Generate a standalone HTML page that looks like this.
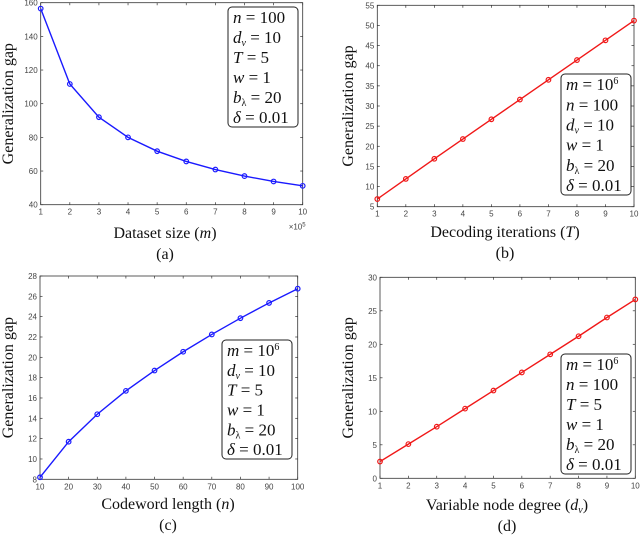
<!DOCTYPE html>
<html><head><meta charset="utf-8"><style>
body{margin:0;background:#fff;width:640px;height:536px;overflow:hidden}
svg{display:block}
.tick{font-family:"Liberation Sans",sans-serif;font-size:8px;fill:#444}
.lab{font-family:"Liberation Serif",serif;font-size:16px;fill:#111}
.leg{font-family:"Liberation Serif",serif;font-size:17px;fill:#111}
</style></head><body>
<svg id="fig" width="640" height="536" viewBox="0 0 640 536"></svg>
<script>
const catsA=[1,2,3,4,5,6,7,8,9,10];
const valsA=[156.5,111.7,92,80,71.8,65.7,60.9,57,53.8,51.2];
const ticksYA=[40,60,80,100,120,140,160];
const catsB=[1,2,3,4,5,6,7,8,9,10];
const valsB=[6.9,11.9,16.9,21.8,26.7,31.6,36.5,41.4,46.3,51.2];
const ticksYB=[5,10,15,20,25,30,35,40,45,50,55];
const catsC=[10,20,30,40,50,60,70,80,90,100];
const valsC=[8.2,11.7,14.4,16.7,18.7,20.55,22.25,23.85,25.35,26.75];
const ticksYC=[8,10,12,14,16,18,20,22,24,26,28];
const catsD=[1,2,3,4,5,6,7,8,9,10];
const valsD=[2.5,5.1,7.7,10.4,13.1,15.8,18.5,21.2,24,26.7];
const ticksYD=[0,5,10,15,20,25,30];
const NS="http://www.w3.org/2000/svg";
const fig=document.getElementById('fig');
function mk(tag,attrs,parent,txt){const e=document.createElementNS(NS,tag);for(const k in attrs)e.setAttribute(k,attrs[k]);if(txt!==undefined)e.innerHTML=txt;(parent||fig).appendChild(e);return e;}
function panel(p){
  const g=mk('g',{});
  
  
  const xs=v=>p.x0+(v-p.xmin)/(p.xmax-p.xmin)*(p.x1-p.x0);
  const ys=v=>p.y1-(v-p.ymin)/(p.ymax-p.ymin)*(p.y1-p.y0);
  const box=mk('rect',{x:p.x0,y:p.y0,width:p.x1-p.x0,height:p.y1-p.y0,fill:'none',stroke:'#333','stroke-width':0.8},g);
  
  
  p.cats.forEach(c=>{
    mk('line',{x1:xs(c),x2:xs(c),y1:p.y1,y2:p.y1-2.5,stroke:'#333','stroke-width':0.7},g);
    mk('line',{x1:xs(c),x2:xs(c),y1:p.y0,y2:p.y0+2.5,stroke:'#333','stroke-width':0.7},g);
    const t=mk('text',{x:xs(c),y:p.y1+10,'text-anchor':'middle',class:'tick'},g,c);
    
    
  });
  p.ticks.forEach(v=>{
    mk('line',{x1:p.x0,x2:p.x0+2.5,y1:ys(v),y2:ys(v),stroke:'#333','stroke-width':0.7},g);
    mk('line',{x1:p.x1,x2:p.x1-2.5,y1:ys(v),y2:ys(v),stroke:'#333','stroke-width':0.7},g);
    const t=mk('text',{x:p.x0-3,y:ys(v)+3,'text-anchor':'end',class:'tick'},g,v);
    
    
  });
  const pts=p.cats.map((c,i)=>xs(c)+','+ys(p.vals[i])).join(' ');
  const ln=mk('polyline',{points:pts,fill:'none',stroke:p.color,'stroke-width':1.4},g);
  
  
  p.cats.forEach((c,i)=>{
    const m=mk('circle',{cx:xs(c),cy:ys(p.vals[i]),r:2.3,fill:'none',stroke:p.color,'stroke-width':1.2},g);
    
    
  });
  const yl=mk('text',{x:0,y:0,transform:`translate(${p.ylx},${(p.y0+p.y1)/2}) rotate(-90)`,'text-anchor':'middle',class:'lab'},g,'Generalization gap');
  
  
  const xl=mk('text',{x:p.xlx,y:p.xly,'text-anchor':'middle',class:'lab'},g,p.xlabel);
  
  
  const cap=mk('text',{x:p.xlx,y:p.xly+21,'text-anchor':'middle',class:'lab'},g,'('+p.id+')');
  
  
  const lg=mk('g',{},g);
  
  
  mk('rect',{x:p.lx,y:p.ly,width:70,height:p.lh,rx:4,fill:'#fff',stroke:'#222','stroke-width':1},lg);
  const step=p.lh/p.leg.length;
  p.leg.forEach((s,i)=>{
    mk('text',{x:p.lx+5,y:p.ly+step*(i+0.5)+6,class:'leg'},lg,s);
  });
  if(p.exp){const e=mk('text',{x:p.x1-14,y:p.y1+25,class:'tick'},g,'×10<tspan dy="-3" font-size="6">5</tspan>');
    
    }
}
const I=s=>`<tspan font-style="italic">${s}</tspan>`;
const mm=I('m')+' = 10<tspan dy="-6" font-size="10">6</tspan><tspan dy="6"></tspan>';
const nn=I('n')+' = 100', dv=I('d')+'<tspan dy="3" font-size="10" font-style="italic">v</tspan><tspan dy="-3"> = 10</tspan>';
const TT=I('T')+' = 5', ww=I('w')+' = 1', bl=I('b')+'<tspan dy="3" font-size="10">λ</tspan><tspan dy="-3"> = 20</tspan>', dd=I('δ')+' = 0.01';
panel({id:'a',x0:40.7,x1:302.7,y0:2.7,y1:204.7,xmin:1,xmax:10,ymin:40,ymax:160,cats:catsA,vals:valsA,ticks:ticksYA,color:'#1a1aff',ylx:13,xlx:165,xly:238,xlabel:'Dataset size ('+I('m')+')',lx:228,ly:7,lh:120,leg:[nn,dv,TT,ww,bl,dd],exp:true});
panel({id:'b',x0:377.3,x1:634,y0:5.3,y1:206.7,xmin:1,xmax:10,ymin:5,ymax:55,cats:catsB,vals:valsB,ticks:ticksYB,color:'#f01818',ylx:353,xlx:505,xly:237,xlabel:'Decoding iterations ('+I('T')+')',lx:561,ly:74,lh:121,leg:[mm,nn,dv,ww,bl,dd]});
panel({id:'c',x0:40,x1:297.7,y0:276,y1:479.3,xmin:10,xmax:100,ymin:8,ymax:28,cats:catsC,vals:valsC,ticks:ticksYC,color:'#1a1aff',ylx:13,xlx:168,xly:509,xlabel:'Codeword length ('+I('n')+')',lx:222,ly:340,lh:119,leg:[mm,dv,TT,ww,bl,dd]});
panel({id:'d',x0:380,x1:635.3,y0:277.3,y1:478.3,xmin:1,xmax:10,ymin:0,ymax:30,cats:catsD,vals:valsD,ticks:ticksYD,color:'#f01818',ylx:353,xlx:507,xly:510,xlabel:'Variable node degree ('+I('d')+'<tspan dy="3" font-size="10" font-style="italic">v</tspan><tspan dy="-3">)</tspan>',lx:561,ly:354,lh:120,leg:[mm,nn,TT,ww,bl,dd]});
</script>
</body></html>
